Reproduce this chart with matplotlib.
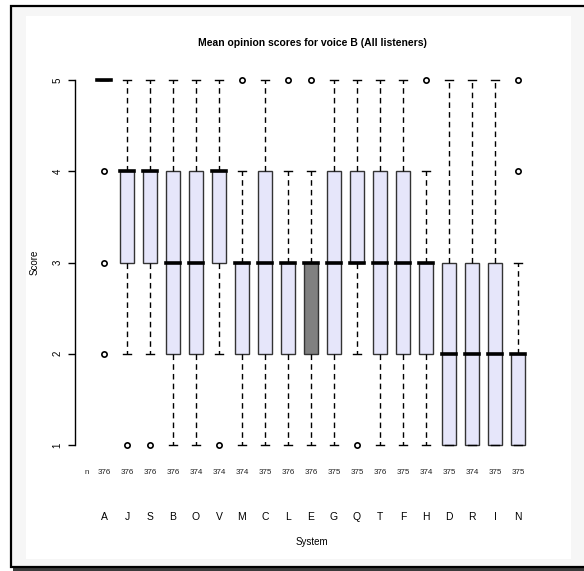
import matplotlib
matplotlib.use("Agg")
import matplotlib.pyplot as plt
from matplotlib.patches import Rectangle
from matplotlib.transforms import blended_transform_factory

plt.rcParams['font.family'] = ['Liberation Sans', 'DejaVu Sans']

systems = ['A', 'J', 'S', 'B', 'O', 'V', 'M', 'C', 'L', 'E',
           'G', 'Q', 'T', 'F', 'H', 'D', 'R', 'I', 'N']
counts = [376, 376, 376, 376, 374, 374, 374, 375, 376, 376,
          375, 375, 376, 375, 374, 375, 374, 375, 375]
medians = [5, 4, 4, 3, 3, 4, 3, 3, 3, 3, 3, 3, 3, 3, 3, 2, 2, 2, 2]
q1s = [5, 3, 3, 2, 2, 3, 2, 2, 2, 2, 2, 3, 2, 2, 2, 1, 1, 1, 1]
q3s = [5, 4, 4, 4, 4, 4, 3, 4, 3, 3, 4, 4, 4, 4, 3, 3, 3, 3, 2]
whisk_lo = [5, 2, 2, 1, 1, 2, 1, 1, 1, 1, 1, 2, 1, 1, 1, 1, 1, 1, 1]
whisk_hi = [5, 5, 5, 5, 5, 5, 4, 5, 4, 4, 5, 5, 5, 5, 4, 5, 5, 5, 3]
outliers = [[4, 3, 2], [1], [1], [], [], [1], [5], [], [5], [5],
            [], [1], [], [], [5], [], [], [], [4, 5]]
highlight = 'E'

W, H = 584, 571
fig = plt.figure(figsize=(W / 100, H / 100), dpi=100)
fig.patch.set_facecolor('white')


def px(x0, y0, x1, y1):
    # pixel box (top-left origin) -> figure fraction rectangle
    return (x0 / W, 1 - y1 / H), (x1 - x0) / W, (y1 - y0) / H


# frame, shadow and inner panel (behind the axes)
xy, w, h = px(13, 9, 586, 571)
fig.add_artist(Rectangle(xy, w, h, transform=fig.transFigure, facecolor='#3a3a3a',
                         edgecolor='none', zorder=-10))
xy, w, h = px(11, 6, 590, 567)
fig.add_artist(Rectangle(xy, w, h, transform=fig.transFigure, facecolor='#f6f6f6',
                         edgecolor='black', linewidth=1.6, zorder=-9))
xy, w, h = px(26, 16, 571, 559)
fig.add_artist(Rectangle(xy, w, h, transform=fig.transFigure, facecolor='white',
                         edgecolor='none', zorder=-8))

ax = fig.add_axes([75 / W, 1 - 459.6 / H, (547 - 75) / W, (459.6 - 65.4) / H])
ax.set_facecolor('none')
ax.set_zorder(5)

positions = list(range(1, len(systems) + 1))
stats = []
for i, s in enumerate(systems):
    stats.append(dict(med=medians[i], q1=q1s[i], q3=q3s[i],
                      whislo=whisk_lo[i], whishi=whisk_hi[i],
                      fliers=outliers[i], label=s))

bp = ax.bxp(stats, positions=positions, widths=0.65, patch_artist=True,
            boxprops=dict(edgecolor='#333333', linewidth=1.0),
            whiskerprops=dict(color='black', linewidth=1.0, linestyle=(0, (4, 3))),
            capprops=dict(color='black', linewidth=1.0),
            medianprops=dict(color='black', linewidth=2.6, solid_capstyle='projecting'),
            flierprops=dict(marker='o', markersize=3.8, markerfacecolor='none',
                            markeredgecolor='black', markeredgewidth=1.2))
for s, box in zip(systems, bp['boxes']):
    box.set_facecolor('#808080' if s == highlight else '#e6e6fa')

ax.set_xlim(-0.26, 20.26)
ax.set_ylim(0.84, 5.16)
for side in ['top', 'right', 'bottom']:
    ax.spines[side].set_visible(False)
ax.spines['left'].set_bounds(1, 5)
ax.spines['left'].set_linewidth(1.0)
ax.set_xticks([])
ax.set_yticks([1, 2, 3, 4, 5])
ax.tick_params(axis='y', length=5, width=1.0, pad=4, labelsize=7)
for lab in ax.get_yticklabels():
    lab.set_rotation(90)
    lab.set_va('center')

trans = blended_transform_factory(ax.transData, fig.transFigure)
ax.text(0.26, 1 - 473 / H, 'n', transform=trans, ha='center', va='center', fontsize=5.8, color='#222222')
for p, s, n in zip(positions, systems, counts):
    ax.text(p, 1 - 473 / H, str(n), transform=trans, ha='center', va='center', fontsize=5.8, color='#222222')
    ax.text(p, 1 - 517 / H, s, transform=trans, ha='center', va='center', fontsize=7.5)

fig.text(312 / W, 1 - 542 / H, 'System', ha='center', va='center', fontsize=7)
fig.text(35 / W, 1 - 262 / H, 'Score', ha='center', va='center', rotation=90, fontsize=7)
fig.text(312 / W, 1 - 43 / H, 'Mean opinion scores for voice B (All listeners)',
         ha='center', va='center', fontsize=7.5, fontweight='bold')

fig.savefig('out.png', dpi=100)
